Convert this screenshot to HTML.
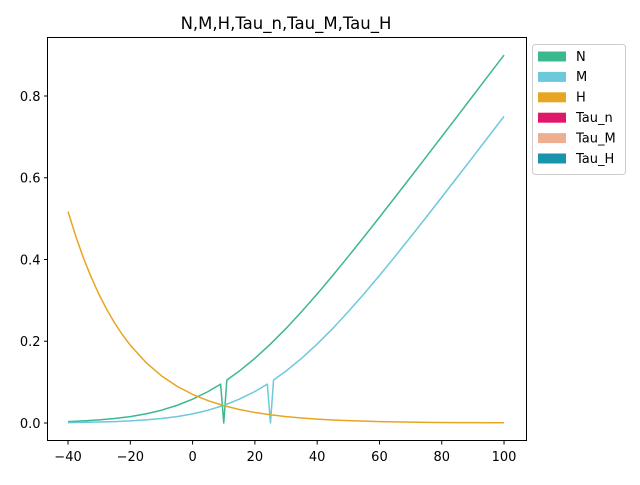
<!DOCTYPE html>
<html><head><meta charset="utf-8"><style>
body{margin:0;background:#fff}
svg text{font-family:"DejaVu Sans","Liberation Sans",sans-serif;fill:#000}
</style></head><body>
<svg width="640" height="480" viewBox="0 0 640 480" id="chart">
<rect x="0" y="0" width="640" height="480" fill="#fff"/>
<text x="286" y="29" font-size="16.5" text-anchor="middle">N,M,H,Tau_n,Tau_M,Tau_H</text>
<g id="plot"></g>
<rect x="47.5" y="37.5" width="479" height="403" fill="none" stroke="#000" stroke-width="1"/>
<g id="legend"></g>
</svg>
<script>
const xTicks=[-40,-20,0,20,40,60,80,100];
const yTicks=[0.0,0.2,0.4,0.6,0.8];
const yTickLabels=["0.0","0.2","0.4","0.6","0.8"];
const nX=[-40,-35,-30,-25,-20,-15,-10,-5,0,5,9,10,11,15,20,25,30,35,40,45,50,55,60,65,70,75,80,85,90,95,100];
const nY=[0.0034,0.0051,0.0075,0.0109,0.0157,0.0224,0.0313,0.0431,0.0582,0.0771,0.0951,0,0.1051,0.1271,0.1582,0.1931,0.2313,0.2724,0.3157,0.3609,0.4075,0.4551,0.5034,0.5523,0.6015,0.6510,0.7006,0.7504,0.8003,0.8502,0.9001];
const mX=[-40,-35,-30,-25,-20,-15,-10,-5,0,5,10,15,20,24,25,26,30,35,40,45,50,55,60,65,70,75,80,85,90,95,100];
const mY=[0.0010,0.0015,0.0023,0.0034,0.0051,0.0075,0.0109,0.0157,0.0224,0.0313,0.0431,0.0582,0.0771,0.0951,0,0.1051,0.1271,0.1582,0.1931,0.2313,0.2724,0.3157,0.3609,0.4075,0.4551,0.5034,0.5523,0.6015,0.6510,0.7006,0.7504];
const hX=[-40,-37.5,-35,-32.5,-30,-27.5,-25,-22.5,-20,-15,-10,-5,0,5,10,15,20,25,30,35,40,45,50,55,60,65,70,75,80,85,90,95,100];
const hY=[0.5172,0.4565,0.4028,0.3555,0.3137,0.2768,0.2443,0.2156,0.1903,0.1482,0.1154,0.0899,0.0700,0.0545,0.0425,0.0331,0.0258,0.0201,0.0156,0.0122,0.0095,0.0074,0.0057,0.0045,0.0035,0.0027,0.0021,0.0016,0.0013,0.0010,0.0008,0.0006,0.0005];
const legendLabels=["N","M","H","Tau_n","Tau_M","Tau_H"];
const legendColors=["#3cb88f","#6cc9dc","#e8a521","#e0186a","#f0ae90","#1a93ad"];

const NS="http://www.w3.org/2000/svg";
function sx(v){return 192.6+v*(436/140);}
function sy(v){return 423-v*408.75;}
const plot=document.getElementById('plot');
function mk(t,a,p){const e=document.createElementNS(NS,t);for(const k in a)e.setAttribute(k,a[k]);(p||plot).appendChild(e);return e;}
xTicks.forEach(v=>{
  const l=mk('line',{x1:sx(v),x2:sx(v),y1:441,y2:444.5,stroke:'#000'});
  
  
  const t=mk('text',{x:sx(v),y:461,'font-size':13,'text-anchor':'middle'});
  t.textContent=(v<0?'\u2212'+(-v):''+v);
  
  
});
yTicks.forEach((v,i)=>{
  const l=mk('line',{x1:44,x2:47.5,y1:sy(v),y2:sy(v),stroke:'#000'});
  
  
  const t=mk('text',{x:40.5,y:sy(v)+4.8,'font-size':13,'text-anchor':'end'});
  t.textContent=yTickLabels[i];
  
  
});
function line(xs,ys,c,name){
  const d=xs.map((x,i)=>(i?'L':'M')+sx(x).toFixed(2)+' '+sy(ys[i]).toFixed(2)).join(' ');
  const p=mk('path',{d:d,fill:'none',stroke:c,'stroke-width':1.5,'stroke-linejoin':'round'});
  
  
}
line(nX,nY,legendColors[0],'series-n');
line(mX,mY,legendColors[1],'series-m');
line(hX,hY,legendColors[2],'series-h');
const lg=document.getElementById('legend');
const box=mk('rect',{x:532.5,y:44.5,width:93,height:130,rx:3,fill:'#fff',stroke:'#ccc'},lg);


legendLabels.forEach((s,i)=>{
  const y=56+i*20.4;
  const r=mk('rect',{x:538,y:y-4.5,width:28,height:10,fill:legendColors[i]},lg);
  
  
  const t=mk('text',{x:576,y:y+4.8,'font-size':13},lg);
  t.textContent=s;
  
  
});
</script>
</body></html>
